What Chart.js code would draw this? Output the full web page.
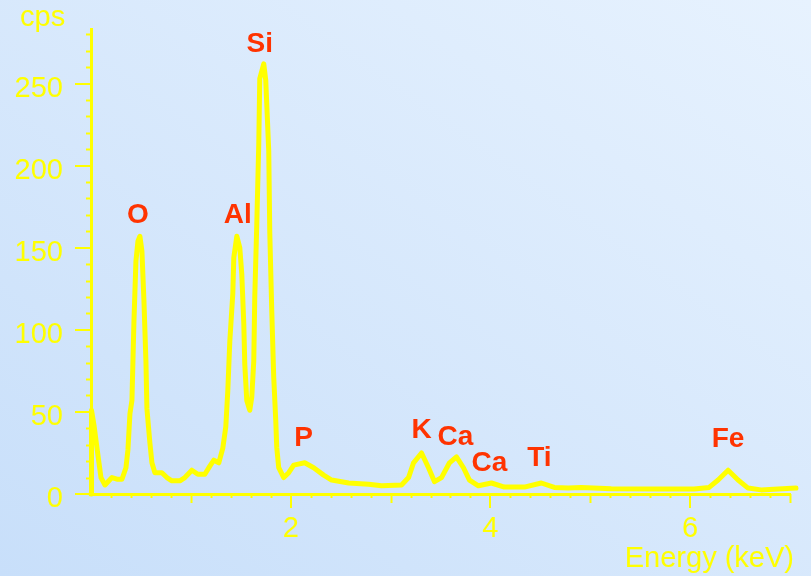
<!DOCTYPE html>
<html>
<head>
<meta charset="utf-8">
<script src="https://cdn.jsdelivr.net/npm/chart.js@4.4.1/dist/chart.umd.min.js"></script>
<style>
    body {
        margin: 0;
        width: 811px;
        height: 576px;
        overflow: hidden;
        background: linear-gradient(to top right, #c8dffa, #e7f2fe);
    }
    canvas { display: block; }
</style>
</head>
<body>
<canvas id="spectrum" width="811" height="576"></canvas>
<script>
// ----------- Data (EDX spectrum) ----------------- //

const energy = [0.00, 0.005, 0.03, 0.06, 0.08, 0.10, 0.14, 0.21, 0.26, 0.31, 0.35, 0.37, 0.39,
    0.41, 0.43, 0.45, 0.47, 0.49, 0.51, 0.53, 0.55, 0.56, 0.59, 0.61, 0.64, 0.71, 0.76, 0.81,
    0.89, 0.94, 1.01, 1.07, 1.14, 1.19, 1.23, 1.28, 1.32, 1.35, 1.37, 1.39, 1.42, 1.43, 1.46,
    1.49, 1.51, 1.53, 1.54, 1.56, 1.59, 1.61, 1.63, 1.64, 1.66, 1.68, 1.69, 1.73, 1.75, 1.78,
    1.79, 1.81, 1.83, 1.85, 1.86, 1.88, 1.93, 1.98, 2.03, 2.14, 2.23, 2.33, 2.41, 2.58, 2.78,
    2.91, 3.11, 3.18, 3.23, 3.31, 3.38, 3.44, 3.51, 3.59, 3.66, 3.73, 3.79, 3.88, 4.01, 4.14,
    4.34, 4.51, 4.64, 4.78, 4.91, 5.21, 5.71, 6.04, 6.19, 6.28, 6.38, 6.48, 6.58, 6.71, 6.88, 7.06];
const counts = [0, 51, 42, 28, 19, 10, 5.5, 10, 9, 9, 16, 27, 49,
    57, 105, 142, 154, 157, 148, 118, 81, 52, 31, 19, 13, 13, 10, 8,
    8, 10, 14.5, 12, 12, 17, 20.6, 19, 28, 41, 63, 93, 122, 144, 157,
    150, 134, 104, 79, 57, 51, 59, 81, 120, 164, 213, 253, 262, 252, 209,
    160, 112, 71, 45, 28.5, 16, 10, 13, 17.6, 19, 16, 11.5, 8.5, 6.7, 6,
    5, 5.5, 10, 19, 25, 16, 7.5, 10, 19, 22.6, 16, 8.5, 5, 6.7, 4.2,
    4.2, 6.7, 4, 3.6, 4, 3.2, 3, 3, 4, 8.5, 14.5, 8.5, 3.6, 2.5, 3, 3.6];

// peak labels: name, energy (keV), baseline (cps)
const peakNames = ["O", "Al", "Si", "P", "K", "Ca", "Ca", "Ti", "Fe"];
const peakEnergy = [0.47, 1.47, 1.69, 2.13, 3.31, 3.65, 3.99, 4.49, 6.38];
const peakCps = [165, 165, 269, 29, 34, 30, 14, 17, 28.5];

const yTicks = [0, 50, 100, 150, 200, 250];
const xTickLabels = [2, 4, 6];

const yellow = '#ffff00';
const red = '#ff3300';
const fontFamily = '"Liberation Sans", Arial, sans-serif';

// minor ticks + texts
const extrasPlugin = {
    id: 'extras',
    afterDraw(chart) {
        const ctx = chart.ctx;
        const x = chart.scales.x;
        const y = chart.scales.y;
        const area = chart.chartArea;
        ctx.save();
        ctx.strokeStyle = yellow;
        ctx.lineWidth = 2;
        ctx.beginPath();
        for (let v = 10; v <= 280; v += 10) {
            if (v % 50 === 0) continue;
            const py = Math.round(y.getPixelForValue(v)) + 0.5;
            ctx.moveTo(area.left - 5, py);
            ctx.lineTo(area.left, py);
        }
        for (let i = 1; i <= 35; i++) {
            if (i % 10 === 0) continue;
            const px = Math.round(x.getPixelForValue(i * 0.2)) + 0.5;
            const len = (i % 5 === 0) ? 9 : 4;
            ctx.moveTo(px, area.bottom);
            ctx.lineTo(px, area.bottom + len);
        }
        ctx.stroke();

        ctx.fillStyle = yellow;
        ctx.font = '29px ' + fontFamily;
        ctx.textAlign = 'left';
        ctx.textBaseline = 'alphabetic';
        ctx.fillText('cps', 20, 26);
        ctx.textAlign = 'right';
        ctx.fillText('Energy (keV)', 794, 567);

        ctx.fillStyle = red;
        ctx.font = 'bold 28px ' + fontFamily;
        ctx.textAlign = 'center';
        peakNames.forEach((n, i) => {
            ctx.fillText(n, x.getPixelForValue(peakEnergy[i]), y.getPixelForValue(peakCps[i]));
        });
        ctx.restore();
    }
};

new Chart(document.getElementById('spectrum'), {
    type: 'line',
    data: {
        datasets: [{
            data: energy.map((e, i) => ({x: e, y: counts[i]})),
            borderColor: yellow,
            borderWidth: 5,
            borderJoinStyle: 'round',
            borderCapStyle: 'round',
            pointRadius: 0,
            tension: 0,
            clip: false
        }]
    },
    options: {
        responsive: false,
        animation: false,
        layout: {
            padding: {top: 27, right: 21, left: 0, bottom: 0}
        },
        plugins: {
            legend: {display: false},
            tooltip: {enabled: false}
        },
        scales: {
            x: {
                type: 'linear',
                min: 0,
                max: 7,
                afterFit: (s) => { s.height = 82; },
                border: {color: yellow, width: 3},
                grid: {
                    drawOnChartArea: false,
                    tickLength: 14,
                    lineWidth: 2,
                    color: (c) => c.tick && c.tick.value === 0 ? 'rgba(0,0,0,0)' : yellow
                },
                ticks: {
                    stepSize: 2,
                    includeBounds: false,
                    padding: 4,
                    maxRotation: 0,
                    color: yellow,
                    font: {family: fontFamily, size: 29},
                    callback: (v) => xTickLabels.includes(v) ? v : ''
                }
            },
            y: {
                min: 0,
                max: 283,
                afterFit: (s) => { s.width = 91; },
                border: {color: yellow, width: 3},
                grid: {
                    drawOnChartArea: false,
                    tickLength: 16,
                    lineWidth: 2,
                    color: yellow
                },
                ticks: {
                    stepSize: 50,
                    includeBounds: false,
                    padding: 12,
                    labelOffset: 5,
                    color: yellow,
                    font: {family: fontFamily, size: 29},
                    callback: (v) => yTicks.includes(v) ? v : ''
                }
            }
        }
    },
    plugins: [extrasPlugin]
});
</script>
</body>
</html>
